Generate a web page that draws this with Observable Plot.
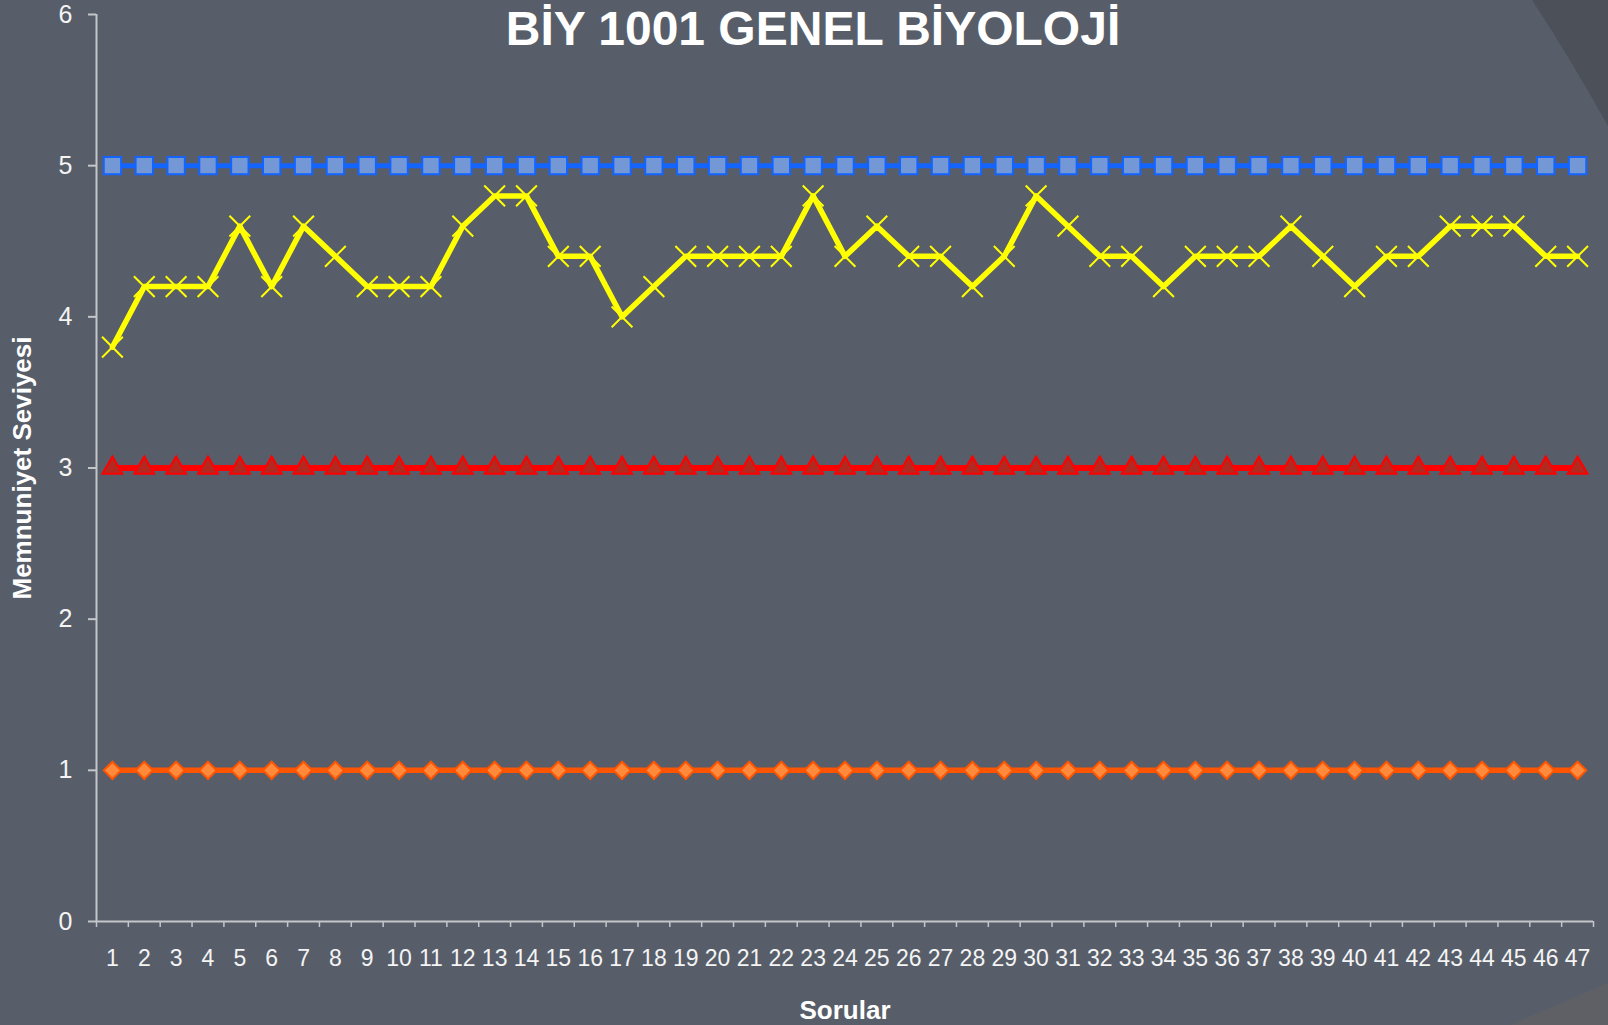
<!DOCTYPE html>
<html><head><meta charset="utf-8">
<script src="https://cdn.jsdelivr.net/npm/d3@7"></script>
<script src="https://cdn.jsdelivr.net/npm/@observablehq/plot@0.6"></script>
<style>
html,body{margin:0;padding:0;background:#575E6A;width:1608px;height:1025px;overflow:hidden;}
#wrap{position:relative;width:1608px;height:1025px;}
#bg{position:absolute;left:0;top:0;}
#chart{position:absolute;left:0;top:0;}
</style></head><body>
<div id="wrap">
<svg id="bg" width="1608" height="1025">
  <path d="M1532,0 Q1570,58 1608,126 L1608,0 Z" fill="#4C5059"/>
  <path d="M1510,1025 L1608,983 L1608,1025 Z" fill="#5F6066"/>
</svg>
<div id="chart"></div>
</div>
<script>
const titleText = "BİY 1001 GENEL BİYOLOJİ";
const xTitle = "Sorular";
const yTitle = "Memnuniyet Seviyesi";
const sorular = [1,2,3,4,5,6,7,8,9,10,11,12,13,14,15,16,17,18,19,20,21,22,23,24,25,26,27,28,29,30,31,32,33,34,35,36,37,38,39,40,41,42,43,44,45,46,47];
const yTicks = [0,1,2,3,4,5,6];
const ortalama = [3.8,4.2,4.2,4.2,4.6,4.2,4.6,4.4,4.2,4.2,4.2,4.6,4.8,4.8,4.4,4.4,4.0,4.2,4.4,4.4,4.4,4.4,4.8,4.4,4.6,4.4,4.4,4.2,4.4,4.8,4.6,4.4,4.4,4.2,4.4,4.4,4.4,4.6,4.4,4.2,4.4,4.4,4.6,4.6,4.6,4.4,4.4];
const enYuksek = [5,5,5,5,5,5,5,5,5,5,5,5,5,5,5,5,5,5,5,5,5,5,5,5,5,5,5,5,5,5,5,5,5,5,5,5,5,5,5,5,5,5,5,5,5,5,5];
const orta = [3,3,3,3,3,3,3,3,3,3,3,3,3,3,3,3,3,3,3,3,3,3,3,3,3,3,3,3,3,3,3,3,3,3,3,3,3,3,3,3,3,3,3,3,3,3,3];
const enDusuk = [1,1,1,1,1,1,1,1,1,1,1,1,1,1,1,1,1,1,1,1,1,1,1,1,1,1,1,1,1,1,1,1,1,1,1,1,1,1,1,1,1,1,1,1,1,1,1];

const rows = arr => sorular.map((q, i) => ({q, v: arr[i]}));
const dYellow = rows(ortalama), dBlue = rows(enYuksek), dRed = rows(orta), dOrange = rows(enDusuk);
const boundaries = [0.5, ...sorular.map(q => q + 0.5)];
const axisColor = "#C4C6CA";
const textColor = "#F4F4F4";

const chart = Plot.plot({
  width: 1608, height: 1025,
  marginLeft: 96, marginRight: 15, marginTop: 14, marginBottom: 104,
  style: {background: "transparent", fontFamily: "'Liberation Sans', Arial, sans-serif", color: textColor, overflow: "visible"},
  x: {type: "linear", domain: [0.5, 47.5]},
  y: {domain: [0, 6]},
  marks: [
    Plot.axisY({ticks: yTicks, tickSize: 8, tickPadding: 16, fontSize: 25, stroke: axisColor, strokeWidth: 2, fill: textColor, label: null, tickFormat: d => String(d)}),
    Plot.axisX({ticks: boundaries, tickSize: 6, tickFormat: () => "", stroke: axisColor, strokeWidth: 1.5, label: null}),
    Plot.axisX({ticks: sorular, tickSize: 0, tickPadding: 28, fontSize: 23, fill: textColor, label: null, tickFormat: d => String(d)}),
    Plot.ruleX([0.5], {stroke: axisColor, strokeWidth: 2}),
    Plot.ruleY([0], {stroke: axisColor, strokeWidth: 2}),
    Plot.line(dOrange, {x: "q", y: "v", stroke: "#FF5400", strokeWidth: 5.5}),
    Plot.dot(dOrange, {x: "q", y: "v", symbol: "diamond2", r: 7.8, fill: "#FF8A3C", stroke: "#FF5400", strokeWidth: 2}),
    Plot.line(dRed, {x: "q", y: "v", stroke: "#FF0000", strokeWidth: 6}),
    Plot.dot(dRed, {x: "q", y: "v", symbol: "triangle", r: 7.4, fill: "#B3281F", stroke: "#FF0000", strokeWidth: 2}),
    Plot.line(dYellow, {x: "q", y: "v", stroke: "#FFFF00", strokeWidth: 5.5}),
    Plot.dot(dYellow, {x: "q", y: "v", symbol: "times", r: 9.5, stroke: "#FFFF00", strokeWidth: 2}),
    Plot.line(dBlue, {x: "q", y: "v", stroke: "#1464FF", strokeWidth: 5}),
    Plot.dot(dBlue, {x: "q", y: "v", symbol: "square", r: 9.8, fill: "#7497D6", stroke: "#1464FF", strokeWidth: 2}),
    Plot.text([titleText], {frameAnchor: "top", dx: -32, dy: 30, lineAnchor: "bottom", fontSize: 48, fontWeight: "bold", fill: "#FFFFFF"}),
    Plot.text([xTitle], {frameAnchor: "bottom", dy: 97, lineAnchor: "bottom", fontSize: 26, fontWeight: "bold", fill: "#FFFFFF"}),
    Plot.text([yTitle], {frameAnchor: "left", dx: -73.5, rotate: -90, textAnchor: "middle", lineAnchor: "middle", fontSize: 26, fontWeight: "bold", fill: "#FFFFFF"})
  ]
});
document.getElementById("chart").appendChild(chart);
</script>
</body></html>
